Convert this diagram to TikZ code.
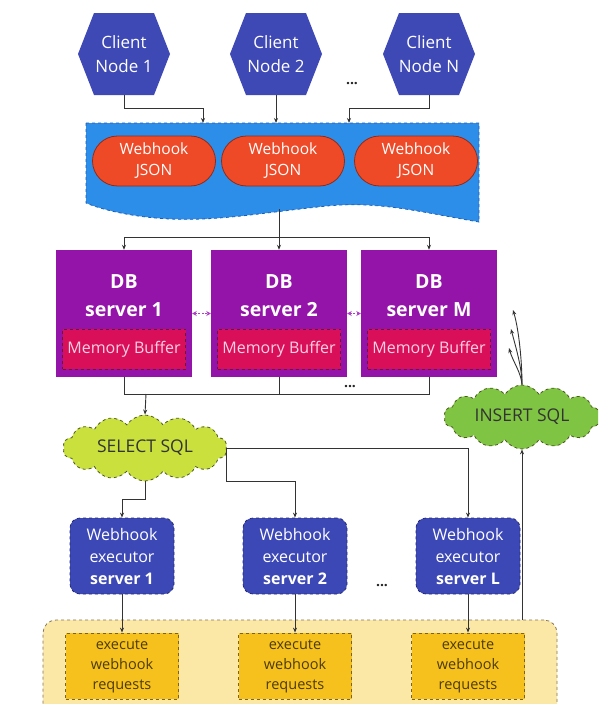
\documentclass[tikz,border=0pt]{standalone}
\usepackage{fontspec}
\setmainfont{Open Sans}
\usetikzlibrary{shapes.symbols,shapes.misc,arrows.meta}

\definecolor{hexblue}{HTML}{3E49B6}
\definecolor{bannerblue}{HTML}{2D8EEA}
\definecolor{banneredge}{HTML}{1B5DB5}
\definecolor{pillred}{HTML}{EF4A27}
\definecolor{pilledge}{HTML}{8E2C18}
\definecolor{dbpurple}{HTML}{9413A9}
\definecolor{linkpurple}{HTML}{B040C6}
\definecolor{bufred}{HTML}{D90F5A}
\definecolor{bufedge}{HTML}{6E1040}
\definecolor{buftext}{HTML}{F9D2E2}
\definecolor{selgreen}{HTML}{C9E03D}
\definecolor{insgreen}{HTML}{7FC443}
\definecolor{cloudedge}{HTML}{4C5A1E}
\definecolor{execblue}{HTML}{3D48B7}
\definecolor{execedge}{HTML}{232A70}
\definecolor{trayfill}{HTML}{FCE8A6}
\definecolor{trayedge}{HTML}{857552}
\definecolor{taskfill}{HTML}{F6C11C}
\definecolor{taskedge}{HTML}{7B6421}
\definecolor{tasktext}{HTML}{4B3B0E}
\definecolor{wirecol}{HTML}{333333}

\tikzset{
  wire/.style={draw=wirecol, line width=0.9pt},
  arr/.style={wire, -{Stealth[length=5pt,width=4pt]}},
  hexnode/.style={minimum width=92pt, minimum height=82pt, inner sep=0pt,
    text=white, align=center, font=\fontsize{17}{24}\selectfont},
  pill/.style={rounded rectangle, fill=pillred, draw=pilledge, line width=0.8pt,
    minimum width=123pt, minimum height=50pt, inner sep=0pt, text=white,
    align=center, font=\fontsize{15.5}{21}\selectfont},
  dbbox/.style={rectangle, fill=dbpurple, minimum width=136pt,
    minimum height=127pt, inner sep=0pt},
  dbtext/.style={text=white, align=center, font=\bfseries\fontsize{19.5}{28}\selectfont},
  buffer/.style={rectangle, fill=bufred, draw=bufedge, dashed, line width=0.8pt,
    minimum width=123pt, minimum height=40pt, inner sep=0pt, text=buftext,
    font=\fontsize{16}{20}\selectfont},
  link/.style={draw=linkpurple, line width=1.3pt, dash pattern=on 2pt off 1.5pt,
    {Stealth[length=4.5pt,width=5pt]}-{Stealth[length=4.5pt,width=5pt]}},
  cloudnode/.style={cloud, cloud puffs=14, cloud puff arc=115, cloud ignores aspect,
    draw=cloudedge, dashed, line width=0.8pt, inner sep=0pt, text=black!80,
    font=\fontsize{17.5}{20}\selectfont},
  exec/.style={rectangle, rounded corners=10pt, fill=execblue, draw=execedge,
    dashed, line width=0.8pt, minimum width=104pt, minimum height=76pt,
    inner sep=0pt, text=white, align=center, font=\fontsize{16}{22}\selectfont},
  tray/.style={rectangle, rounded corners=13pt, fill=trayfill, draw=trayedge,
    dashed, line width=0.8pt, minimum width=514pt, minimum height=100pt},
  task/.style={rectangle, fill=taskfill, draw=taskedge, dashed, line width=0.8pt,
    minimum width=113pt, minimum height=66pt, inner sep=0pt, text=tasktext,
    align=center, font=\fontsize{14.5}{20}\selectfont},
  dots/.style={text=black!85, font=\bfseries\fontsize{14}{14}\selectfont},
}

\begin{document}
\begin{tikzpicture}[x=1pt,y=-1pt]
\useasboundingbox (0,0) rectangle (598,704);
\clip (0,0) rectangle (598,704);
\fill[white] (0,0) rectangle (598,704);

% client hexagons
\foreach \n/\x/\t in {c1/124/Node 1, c2/276/Node 2, c3/429/Node N}{
  \fill[hexblue] (\x-46,54) -- (\x-30,13) -- (\x+30,13) -- (\x+46,54)
    -- (\x+30,95) -- (\x-30,95) -- cycle;
  \node[hexnode] (\n) at (\x,54) {Client\\\t};
}
\node[dots] (d1) at (352,84) {...};

% webhook banner with wavy bottom edge
\fill[bannerblue] (86,123) -- (479,123) -- (479,222)
  .. controls (420,212) and (380,201) .. (327,206)
  .. controls (260,213) and (220,221) .. (170,219)
  .. controls (130,217) and (100,209) .. (86,203) -- cycle;
\draw[banneredge, dashed, line width=0.8pt] (86,123) -- (479,123) -- (479,222)
  .. controls (420,212) and (380,201) .. (327,206)
  .. controls (260,213) and (220,221) .. (170,219)
  .. controls (130,217) and (100,209) .. (86,203) -- cycle;
\coordinate (bIn1) at (203,123);
\coordinate (bIn2) at (276,123);
\coordinate (bIn3) at (349,123);
\coordinate (bOut) at (279,209);

\node[pill] (p1) at (154,161) {Webhook\\JSON};
\node[pill] (p2) at (283,161) {Webhook\\JSON};
\node[pill] (p3) at (416,161) {Webhook\\JSON};

\draw[arr] (c1.south) -- ++(0,13) -| (bIn1);
\draw[arr] (c2.south) -- (bIn2);
\draw[arr] (c3.south) -- ++(0,13) -| (bIn3);

% database servers
\foreach \n/\x/\t in {1/124/1, 2/279/2, 3/429/M}{
  \node[dbbox] (db\n) at (\x,313.5) {};
  \node[dbtext] (dbt\n) at (\x,296) {DB\\server \t};
  \node[buffer] (mb\n) at (\x,349) {Memory Buffer};
}
\draw[arr] (bOut) -- ++(0,28) -| (db1.north);
\draw[arr] (bOut) -- (db2.north);
\draw[arr] (bOut) -- ++(0,28) -| (db3.north);
\draw[link] (db1.east) -- (db2.west);
\draw[link] (db2.east) -- (db3.west);

\coordinate (jn) at (146,394);
\draw[wire] (db1.south) -- ++(0,17) -| (db3.south);
\draw[wire] (db2.south) -- (db2.south |- jn);
\node[dots] (d2) at (350,387) {...};

% SQL clouds
\node[cloudnode, fill=selgreen, minimum width=164pt, minimum height=66pt]
  (sel) at (145,448) {SELECT SQL};
\node[cloudnode, fill=insgreen, minimum width=156pt, minimum height=64pt]
  (ins) at (522,417) {INSERT SQL};
\draw[arr] (jn) -- (sel.north);

% webhook executors
\foreach \n/\x/\t in {1/122/1, 2/295/2, 3/468/L}{
  \node[exec] (ex\n) at (\x,556) {Webhook\\executor\\\textbf{server \t}};
}
\node[dots] (d3) at (382,586) {...};

\draw[arr] (sel.east) -| (ex3.north);
\draw[arr] (sel.east) -- ++(0,33) -| (ex2.north);
\draw[arr] (sel.south) -- ++(0,18) -| (ex1.north);

% request tray
\node[tray] (cont) at (300,670) {};
\foreach \n/\x in {1/122, 2/295, 3/468}{
  \node[task] (xq\n) at (\x,666) {execute\\webhook\\requests};
  \draw[arr] (ex\n.south) -- (xq\n.north);
}

\draw[arr] (ins.south |- cont.north) -- (ins.south);
\coordinate (u1) at (513,310);
\coordinate (u2) at (511,329);
\coordinate (u3) at (509,348);
\draw[arr] (ins.north) .. controls (522,362) and (519,330) .. (u1);
\draw[arr] (ins.north) .. controls (522,368) and (516,348) .. (u2);
\draw[arr] (ins.north) .. controls (521,372) and (513,362) .. (u3);
\end{tikzpicture}
\end{document}
